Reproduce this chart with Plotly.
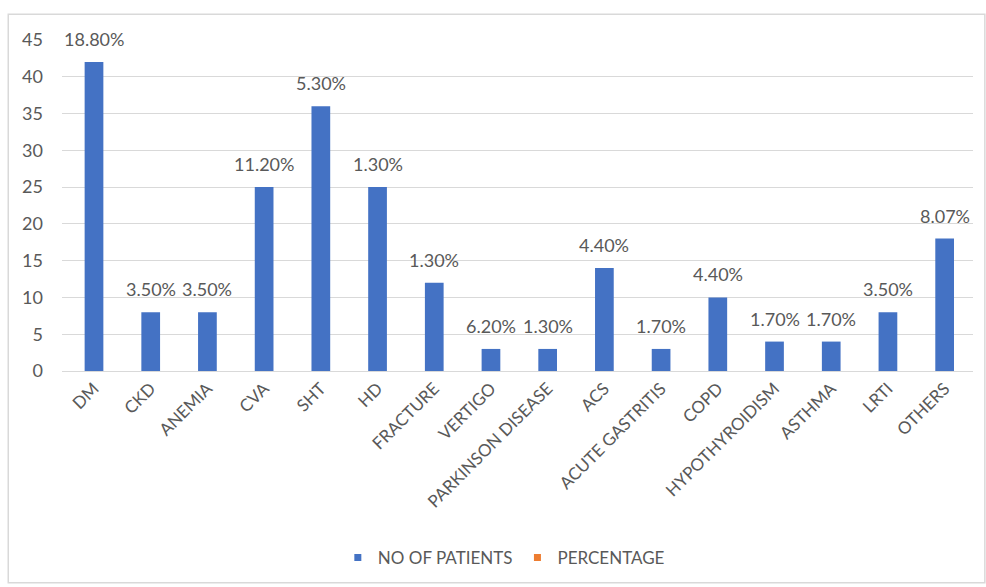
import plotly.graph_objects as go

categories = ["DM", "CKD", "ANEMIA", "CVA", "SHT", "HD", "FRACTURE", "VERTIGO",
              "PARKINSON DISEASE", "ACS", "ACUTE GASTRITIS", "COPD", "HYPOTHYROIDISM",
              "ASTHMA", "LRTI", "OTHERS"]
patients = [42, 8, 8, 25, 36, 25, 12, 3, 3, 14, 3, 10, 4, 4, 8, 18]
percentage = [18.80, 3.50, 3.50, 11.20, 5.30, 1.30, 1.30, 6.20, 1.30, 4.40, 1.70, 4.40, 1.70, 1.70, 3.50, 8.07]
y_ticks = [0, 5, 10, 15, 20, 25, 30, 35, 40, 45]

FONT = "Lato, Open Sans, sans-serif"
GREY = "#595959"
BLUE = "#4472C4"
ORANGE = "#ED7D31"

fig = go.Figure()
# percentage series (tiny values, hidden behind the blue bars)
fig.add_trace(go.Bar(
    x=categories, y=[p / 100 for p in percentage], name="PERCENTAGE",
    marker=dict(color=ORANGE, line=dict(width=0)), width=0.3, showlegend=False,
))
fig.add_trace(go.Bar(
    x=categories, y=patients, name="NO OF PATIENTS",
    marker=dict(color=BLUE, line=dict(width=0)), width=0.33, showlegend=False,
))
# legend entries with small square markers
fig.add_trace(go.Scatter(x=[None], y=[None], mode="markers", name="NO OF PATIENTS",
                         marker=dict(symbol="square", size=7, color=BLUE), legendrank=1))
fig.add_trace(go.Scatter(x=[None], y=[None], mode="markers", name="PERCENTAGE",
                         marker=dict(symbol="square", size=7, color=ORANGE), legendrank=2))

for c, v, p in zip(categories, patients, percentage):
    fig.add_annotation(x=c, y=v, text=f"{p:.2f}%", showarrow=False,
                       yshift=23, font=dict(family=FONT, size=18, color=GREY))

fig.add_shape(type="rect", xref="paper", yref="paper",
              x0=-0.059, x1=1.013, y0=-0.64, y1=1.078,
              line=dict(color="#d9d9d9", width=1.5), fillcolor="rgba(0,0,0,0)", layer="below")

fig.update_layout(
    width=986, height=587,
    margin=dict(l=62, r=13, t=40, b=215),
    paper_bgcolor="white", plot_bgcolor="white",
    barmode="overlay",
    font=dict(family=FONT, color=GREY),
    showlegend=True,
    legend=dict(orientation="h", x=0.485, xanchor="center", y=-0.56, yanchor="middle",
                font=dict(size=17, color=GREY), itemwidth=30, tracegroupgap=0),
    xaxis=dict(tickangle=-45, tickfont=dict(size=17, color=GREY), showgrid=False,
               showline=True, linecolor="#d9d9d9", linewidth=1, ticks=""),
    yaxis=dict(range=[0, 45], tickvals=y_ticks, tickfont=dict(size=18, color=GREY),
               showgrid=True, gridcolor="#d9d9d9", gridwidth=1, zeroline=False,
               showline=False, ticklen=0, ticks="", ticklabelstandoff=18),
)

fig.write_html("out.html")
